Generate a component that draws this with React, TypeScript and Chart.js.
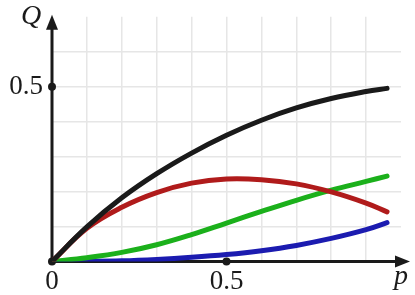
import React, { useEffect, useRef } from "react";
import { Chart, registerables } from "chart.js";

Chart.register(...registerables);

const pValues = [0, 0.1, 0.2, 0.3, 0.4, 0.5, 0.6, 0.7, 0.8, 0.9, 0.96];
const blackQ = [0, 0.099, 0.182, 0.251, 0.31, 0.361, 0.404, 0.439, 0.466, 0.486, 0.495];
const redQ = [0, 0.095, 0.155, 0.197, 0.224, 0.236, 0.234, 0.222, 0.199, 0.167, 0.142];
const greenQ = [0, 0.011, 0.026, 0.048, 0.077, 0.11, 0.143, 0.175, 0.204, 0.229, 0.244];
const blueQ = [0, 0.0005, 0.002, 0.006, 0.012, 0.02, 0.031, 0.046, 0.066, 0.091, 0.111];

const xTickLabels: Record<string, string> = { "0": "0", "0.5": "0.5" };
const yTickLabels: Record<string, string> = { "0.5": "0.5" };
const markerDots = [
  { x: 0, y: 0 },
  { x: 0, y: 0.5 },
  { x: 0.5, y: 0 },
];

const AXIS = "#1a1a1a";
const GRID = "#e6e6e6";
const SERIF = "'Liberation Serif'";

const near = (v: number, t: number) => Math.abs(v - t) < 1e-6;

const axesPlugin = {
  id: "axesArrows",
  beforeDatasetsDraw(chart: any) {
    const { ctx, chartArea, scales } = chart;
    const xs = scales.x;
    const ys = scales.y;
    const x0 = xs.getPixelForValue(0);
    const y0 = ys.getPixelForValue(0);
    const xTip = chartArea.right + 9;
    const yTip = chartArea.top - 2;
    ctx.save();
    ctx.strokeStyle = AXIS;
    ctx.fillStyle = AXIS;
    ctx.lineWidth = 3;
    ctx.lineCap = "butt";
    ctx.beginPath();
    ctx.moveTo(x0, y0);
    ctx.lineTo(xTip - 12, y0);
    ctx.moveTo(x0, y0);
    ctx.lineTo(x0, yTip + 12);
    ctx.stroke();
    ctx.beginPath();
    ctx.moveTo(xTip, y0);
    ctx.lineTo(xTip - 15, y0 - 6);
    ctx.lineTo(xTip - 15, y0 + 6);
    ctx.closePath();
    ctx.fill();
    ctx.beginPath();
    ctx.moveTo(x0, yTip);
    ctx.lineTo(x0 - 6, yTip + 15);
    ctx.lineTo(x0 + 6, yTip + 15);
    ctx.closePath();
    ctx.fill();
    for (const d of markerDots) {
      ctx.beginPath();
      ctx.arc(xs.getPixelForValue(d.x), ys.getPixelForValue(d.y), 4, 0, Math.PI * 2);
      ctx.fill();
    }
    ctx.font = `italic 28px ${SERIF}, serif`;
    ctx.textBaseline = "alphabetic";
    ctx.textAlign = "center";
    ctx.fillText("Q", x0 - 21, 24);
    ctx.fillText("p", xTip - 9, 284);
    ctx.restore();
  },
};

export default function App() {
  const canvasRef = useRef<HTMLCanvasElement | null>(null);

  useEffect(() => {
    const canvas = canvasRef.current;
    if (!canvas) return;
    let chart: Chart | null = null;
    let cancelled = false;
    const mk = (ys: number[], color: string) => ({
      data: pValues.map((p, i) => ({ x: p, y: ys[i] })),
      borderColor: color,
      backgroundColor: color,
      borderWidth: 5,
      borderCapStyle: "round" as const,
      borderJoinStyle: "round" as const,
      pointRadius: 0,
      tension: 0.4,
      fill: false,
    });
    const build = () => {
      if (cancelled) return;
      chart = new Chart(canvas, {
        type: "line",
        data: {
          datasets: [
            mk(blackQ, "#1a1a1a"),
            mk(redQ, "#b01b1b"),
            mk(greenQ, "#1bb01b"),
            mk(blueQ, "#1b1bb0"),
          ],
        },
        options: {
          animation: false,
          responsive: false,
          maintainAspectRatio: false,
          layout: { padding: { top: 16.7, right: 14, left: 0, bottom: 0 } },
          plugins: { legend: { display: false }, tooltip: { enabled: false } },
          scales: {
            x: {
              type: "linear",
              min: 0,
              max: 1,
              border: { display: false },
              grid: {
                drawTicks: false,
                lineWidth: 1.5,
                color: (c: any) => {
                  const v = c.tick ? c.tick.value : 0;
                  return v > 0.05 && v < 0.95 ? GRID : "rgba(0,0,0,0)";
                },
              },
              ticks: {
                stepSize: 0.1,
                autoSkip: false,
                maxRotation: 0,
                padding: 4,
                color: AXIS,
                font: { family: SERIF + ", serif", size: 27 },
                callback: (v: any) => {
                  for (const k of Object.keys(xTickLabels)) if (near(Number(v), Number(k))) return xTickLabels[k];
                  return "";
                },
              },
              afterFit: (s: any) => {
                s.height = 33.5;
                s.paddingLeft = 0;
                s.paddingRight = 0;
              },
            },
            y: {
              type: "linear",
              min: 0,
              max: 0.7,
              border: { display: false },
              grid: {
                drawTicks: false,
                lineWidth: 1.5,
                color: (c: any) => {
                  const v = c.tick ? c.tick.value : 0;
                  return v > 0.05 && v < 0.65 ? GRID : "rgba(0,0,0,0)";
                },
              },
              ticks: {
                stepSize: 0.1,
                autoSkip: false,
                padding: 9,
                color: AXIS,
                font: { family: SERIF + ", serif", size: 27 },
                callback: (v: any) => {
                  for (const k of Object.keys(yTickLabels)) if (near(Number(v), Number(k))) return yTickLabels[k];
                  return "";
                },
              },
              afterFit: (s: any) => {
                s.width = 52;
                s.paddingTop = 0;
                s.paddingBottom = 0;
              },
            },
          },
        },
        plugins: [axesPlugin],
      });
    };
    const fontsApi: any = (document as any).fonts;
    if (fontsApi && fontsApi.load) {
      Promise.all([
        fontsApi.load(`27px ${SERIF}`),
        fontsApi.load(`italic 28px ${SERIF}`),
      ])
        .catch(() => null)
        .then(build);
    } else {
      build();
    }
    return () => {
      cancelled = true;
      if (chart) chart.destroy();
    };
  }, []);

  return (
    <div style={{ position: "fixed", left: 0, top: 0, width: 415, height: 295, background: "#fff" }}>
      <canvas ref={canvasRef} width={415} height={295} style={{ display: "block", width: 415, height: 295 }} />
    </div>
  );
}
